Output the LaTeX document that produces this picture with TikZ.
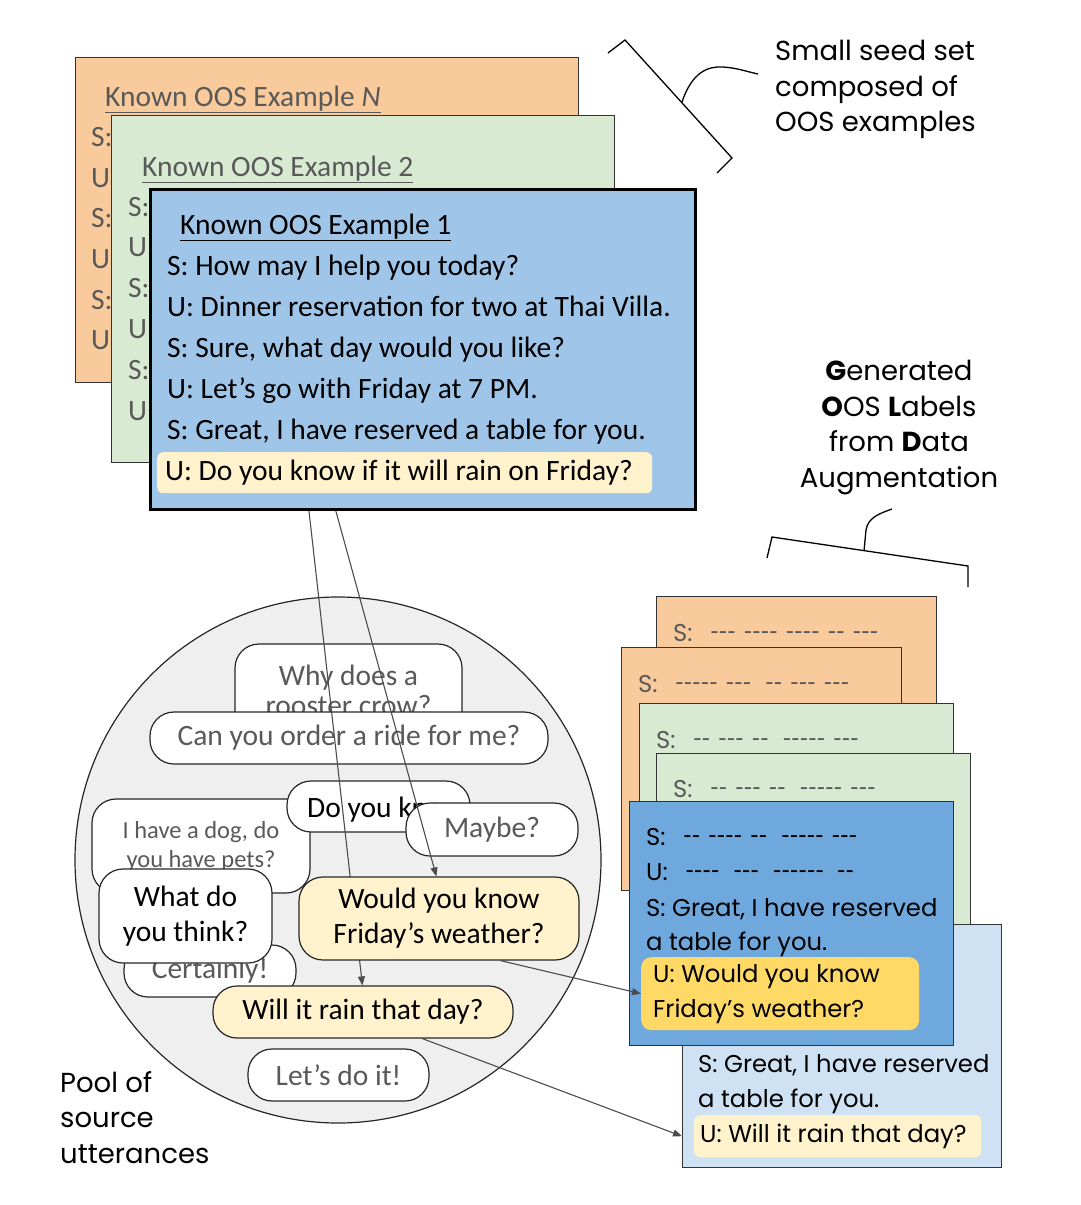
\documentclass[tikz,border=0pt]{standalone}
\usepackage{fontspec}
\setmainfont{Carlito}
\newfontfamily\gsans{Poppins}
\usetikzlibrary{arrows.meta}

\definecolor{peach}{HTML}{F9CB9C}
\definecolor{sage}{HTML}{D9EAD3}
\definecolor{sky}{HTML}{9FC5E8}
\definecolor{deepsky}{HTML}{6FA8DC}
\definecolor{palesky}{HTML}{CFE2F3}
\definecolor{cream}{HTML}{FFF2CC}
\definecolor{gold}{HTML}{FFD966}
\definecolor{poolgray}{HTML}{EFEFEF}
\definecolor{inkgray}{HTML}{595959}

\newcommand{\hy}[1]{\foreach \k in {1,...,#1}{\makebox[8.5pt]{\scalebox{0.62}[1]{-}}}}

\pgfdeclarelayer{pool}
\pgfdeclarelayer{links}
\pgfsetlayers{pool,links,main}

\begin{document}
\begin{tikzpicture}[x=1pt,y=-1pt,
  card/.style={draw=black!80, line width=1.2pt, anchor=north west, inner sep=0pt},
  cline/.style={anchor=base west, inner sep=0pt, font=\fontsize{29.5}{34}\selectfont},
  rline/.style={anchor=base west, inner sep=0pt, font=\gsans\fontsize{24.3}{35}\selectfont},
  hl/.style={anchor=north west, rounded corners=6pt, inner ysep=0pt, align=flush left},
  bubble/.style={draw=black!85, line width=1.2pt, fill=white, rounded corners=24pt,
    inner sep=0pt, align=flush center, text=inkgray, font=\fontsize{29.5}{34.5}\selectfont},
  flow/.style={draw=black!70, line width=1.1pt, -{Triangle[length=9pt,width=7pt]}},
  brace/.style={draw=black, line width=1.3pt},
  caption/.style={inner sep=0pt, font=\gsans\fontsize{27.5}{35.6}\selectfont}]
\useasboundingbox (0,0) rectangle (1080,1205);

% seed set, stacked cards
\node[card, fill=peach, minimum width=503pt, minimum height=325pt] (exN) at (75,57) {};
\node[cline, text=inkgray] (exNt) at (105,106) {\underline{Known OOS Example \textit{N}}};
\foreach \y/\s [count=\i] in {146/S,187/U,227/S,268/U,309/S,349/U}
  \node[cline, text=inkgray] (exN\i) at (91,\y) {\s:};

\node[card, fill=sage, minimum width=503pt, minimum height=347pt] (ex2) at (111,115) {};
\node[cline, text=inkgray] (ex2t) at (142,176) {\underline{Known OOS Example 2}};
\foreach \y/\s [count=\i] in {216/S,256/U,297/S,338/U,379/S,420/U}
  \node[cline, text=inkgray] (ex2\i) at (128,\y) {\s:};

\node[card, fill=sky, draw=black, line width=3pt, minimum width=545pt, minimum height=320pt] (ex1) at (149,188) {};
\node[cline] (ex1t) at (180,234) {\underline{Known OOS Example 1}};
\node[cline] (ex1a) at (167,275) {S: How may I help you today?};
\node[cline] (ex1b) at (167,316) {U: Dinner reservation for two at Thai Villa.};
\node[cline] (ex1c) at (167,357) {S: Sure, what day would you like?};
\node[cline] (ex1d) at (167,398) {U: Let’s go with Friday at 7 PM.};
\node[cline] (ex1e) at (167,439) {S: Great, I have reserved a table for you.};
\node[hl, fill=cream, inner xsep=8pt, minimum width=495pt, minimum height=41pt, text width=479pt,
  font=\fontsize{29.5}{34}\selectfont] (q1) at (157,452) {U: Do you know if it will rain on Friday?};

% seed set brace
\draw[brace] (608,53) -- (625,40) -- (732,158) -- (717,173);
\draw[brace] (682,102) .. controls (692,72) and (708,66) .. (723,67)
  .. controls (738,68) and (748,72) .. (758,74);
\node[caption, anchor=north west, align=flush left] (seedtxt) at (775,40) {Small seed set\\composed of\\OOS examples};

% generated labels
\node[caption, anchor=north, align=flush center] (gentxt) at (899,360)
  {\textbf{G}enerated\\\textbf{O}OS \textbf{L}abels\\from \textbf{D}ata\\Augmentation};
\draw[brace] (767,558) -- (772,537) -- (968,566) -- (968,587);
\draw[brace] (864,551) -- (866,530) .. controls (868,518) and (878,514) .. (892,509);

% pool of source utterances
\begin{pgfonlayer}{pool}
\node[circle, draw=black!85, line width=1.2pt, fill=poolgray, minimum size=526pt, inner sep=0pt] (pool) at (338,860) {};
\node[bubble, minimum width=227pt, minimum height=92pt, font=\fontsize{29.5}{30}\selectfont] (why) at (348.5,690) {Why does a\\rooster crow?};
\node[bubble, minimum width=398pt, minimum height=52pt] (ride) at (349,738) {Can you order a ride for me?};
\node[bubble, minimum width=218pt, minimum height=94pt, font=\fontsize{24.5}{29}\selectfont] (dog) at (201,846) {I have a dog, do\\you have pets?};
\node[bubble, minimum width=183pt, minimum height=51pt] (know) at (378.5,806.5) {};
\node[anchor=base west, inner sep=0pt, font=\fontsize{29.5}{34}\selectfont] (knowt) at (307,817) {Do you know};
\node[bubble, minimum width=172pt, minimum height=53pt] (maybe) at (492,829.5) {Maybe?};
\node[bubble, minimum width=172pt, minimum height=52pt] (cert) at (210,971) {Certainly!};
\node[bubble, minimum width=173pt, minimum height=94pt, text=black] (think) at (185.5,916) {What do\\you think?};
\end{pgfonlayer}

\node[bubble, fill=cream, text=black, minimum width=280pt, minimum height=83pt,
  font=\fontsize{29.5}{35}\selectfont] (would) at (439,918.5) {Would you know\\Friday’s weather?};
\node[bubble, fill=cream, text=black, minimum width=300pt, minimum height=52pt] (rain) at (363,1012) {Will it rain that day?};
\node[bubble, minimum width=181pt, minimum height=52pt] (lets) at (338.5,1075) {Let’s do it!};
\node[caption, anchor=north west, align=flush left] (pooltxt) at (60,1071) {Pool of\\source\\utterances};

\begin{pgfonlayer}{links}
\draw[flow] ([xshift=150pt]q1.south west) -- ([xshift=150pt]rain.north west);
\draw[flow] ([xshift=174pt]q1.south west) -- ([xshift=138pt]would.north west);
\end{pgfonlayer}

% generated examples
\node[card, fill=peach, minimum width=280pt, minimum height=200pt] (gA) at (656,596) {};
\node[rline, text=inkgray] (gAt) at (673,641) {S:\hspace{18pt}\hy{3}\hspace{8pt}\hy{4}\hspace{8pt}\hy{4}\hspace{8pt}\hy{2}\hspace{8pt}\hy{3}};
\node[card, fill=peach, minimum width=280pt, minimum height=243pt] (gB) at (621,647) {};
\node[rline, text=inkgray] (gBt) at (638,692) {S:\hspace{18pt}\hy{5}\hspace{8pt}\hy{3}\hspace{14pt}\hy{2}\hspace{8pt}\hy{3}\hspace{8pt}\hy{3}};
\node[card, fill=sage, minimum width=314pt, minimum height=240pt] (gC) at (639,703) {};
\node[rline, text=inkgray] (gCt) at (656,748) {S:\hspace{18pt}\hy{2}\hspace{8pt}\hy{3}\hspace{8pt}\hy{2}\hspace{14pt}\hy{5}\hspace{8pt}\hy{3}};
\node[card, fill=sage, minimum width=314pt, minimum height=200pt] (gD) at (656,753) {};
\node[rline, text=inkgray] (gDt) at (673,797) {S:\hspace{18pt}\hy{2}\hspace{8pt}\hy{3}\hspace{8pt}\hy{2}\hspace{14pt}\hy{5}\hspace{8pt}\hy{3}};

\node[card, fill=palesky, minimum width=319pt, minimum height=243pt] (gF) at (682,924) {};
\node[rline] (gF1) at (698,1072) {S: Great, I have reserved};
\node[rline] (gF2) at (698,1107) {a table for you.};
\node[hl, fill=cream, inner xsep=6pt, minimum width=287pt, minimum height=42pt, text width=275pt,
  font=\gsans\fontsize{24.3}{35}\selectfont] (fy) at (694,1115) {U: Will it rain that day?};

\node[card, fill=deepsky, minimum width=324pt, minimum height=244pt] (gE) at (629,801) {};
\node[rline] (gE1) at (646,845) {S:\hspace{18pt}\hy{2}\hspace{8pt}\hy{4}\hspace{8pt}\hy{2}\hspace{14pt}\hy{5}\hspace{8pt}\hy{3}};
\node[rline] (gE2) at (646,880) {U:\hspace{18pt}\hy{4}\hspace{14pt}\hy{3}\hspace{14pt}\hy{6}\hspace{13pt}\hy{2}};
\node[rline] (gE3) at (646,916) {S: Great, I have reserved};
\node[rline] (gE4) at (646,950) {a table for you.};
\node[hl, fill=gold, rounded corners=10pt, inner xsep=12pt, minimum width=278pt, minimum height=73pt, text width=254pt,
  font=\gsans\fontsize{24.3}{35}\selectfont] (ey) at (641,957) {U: Would you know\\Friday’s weather?};

\draw[flow] ([xshift=202pt]would.south west) -- (ey.west);
\draw[flow] ([xshift=210pt]rain.south west) -- (fy.west -| gF.west);
\end{tikzpicture}
\end{document}
